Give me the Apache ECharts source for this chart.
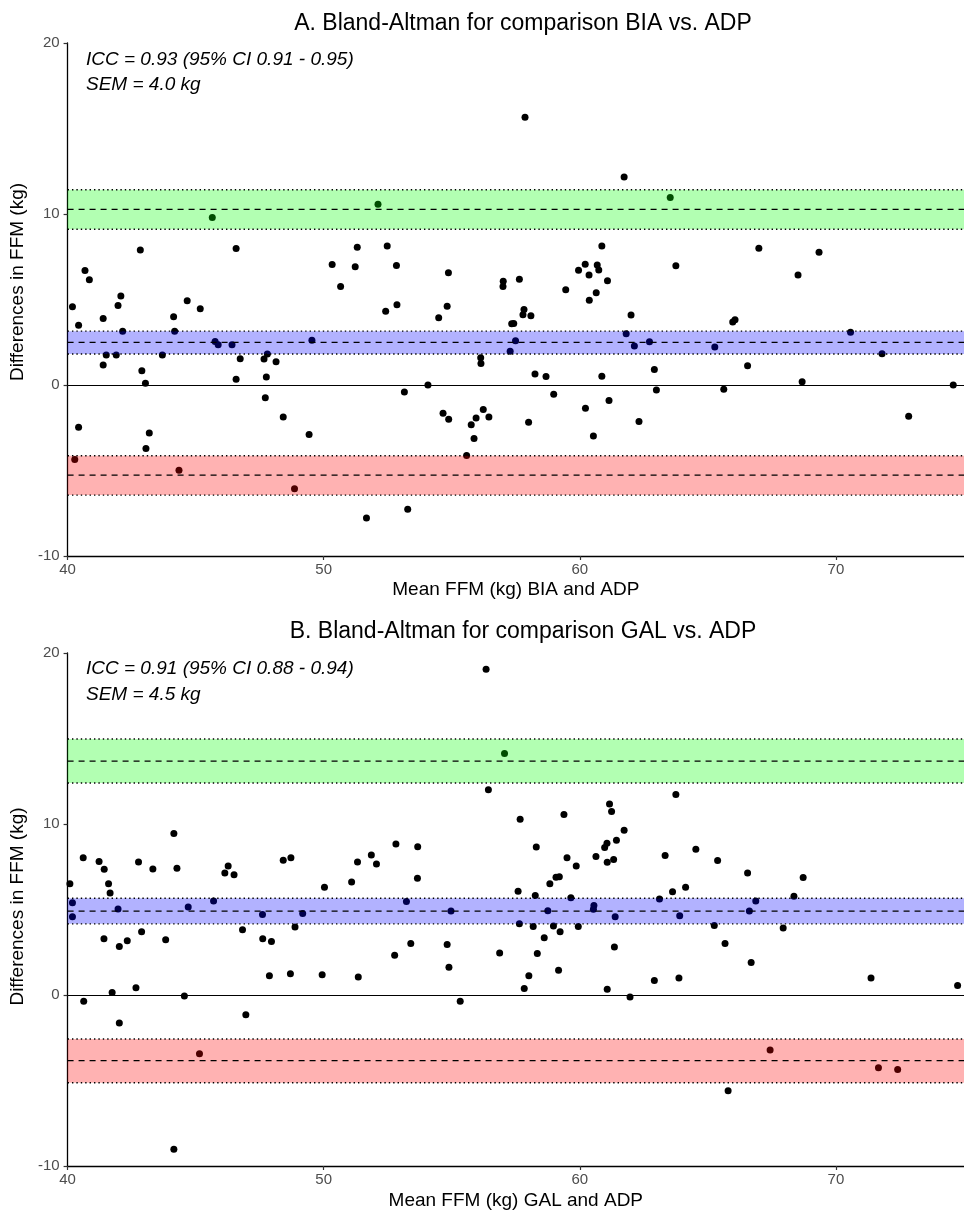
<!DOCTYPE html>
<html><head><meta charset="utf-8">
<script src="https://cdn.jsdelivr.net/npm/echarts@6/dist/echarts.min.js"></script>
<style>html,body{margin:0;padding:0;background:#fff}#c{width:964px;height:1213px}</style>
</head><body><div id="c"></div>
<script>
// ---------- data ----------
const xTicks = [40, 50, 60, 70];
const yTicks = [-10, 0, 10, 20];

const titleA = 'A. Bland-Altman for comparison BIA vs. ADP';
const titleB = 'B. Bland-Altman for comparison GAL vs. ADP';
const xNameA = 'Mean FFM (kg) BIA and ADP';
const xNameB = 'Mean FFM (kg) GAL and ADP';
const yName = 'Differences in FFM (kg)';
const noteA = ['ICC = 0.93 (95% CI 0.91 - 0.95)', 'SEM = 4.0 kg'];
const noteB = ['ICC = 0.91 (95% CI 0.88 - 0.94)', 'SEM = 4.5 kg'];

// [CI low, estimate, CI high]
const lowerA = [-6.44, -5.27, -4.14];
const biasA  = [1.81, 2.49, 3.15];
const upperA = [9.11, 10.27, 11.42];
const lowerB = [-5.13, -3.84, -2.57];
const biasB  = [4.16, 4.91, 5.66];
const upperB = [12.40, 13.68, 14.97];

// [mean FFM, difference]
const pointsA = [
 [40.19,4.57],[40.43,3.50],[40.43,-2.47],[40.28,-4.36],[40.68,6.69],[40.85,6.15],[41.39,3.89],[41.51,1.75],
 [41.39,1.17],[41.90,1.75],[41.97,4.65],[42.08,5.21],[42.15,3.15],[42.84,7.90],[42.90,0.84],[43.04,0.10],
 [43.06,-3.72],[43.19,-2.80],[43.70,1.75],[44.14,3.99],[44.18,3.15],[44.35,-4.98],[44.67,4.92],[45.18,4.46],
 [45.65,9.79],[45.76,2.55],[45.88,2.35],[46.42,2.35],[46.58,7.98],[46.74,1.54],[46.58,0.33],[47.67,1.52],
 [47.80,1.81],[47.76,0.47],[47.72,-0.74],[48.14,1.36],[48.42,-1.87],[48.86,-6.07],[49.43,-2.90],[49.54,2.61],
 [50.33,7.04],[50.66,5.76],[51.23,6.91],[51.31,8.06],
 [51.67,-7.78],[52.12,10.57],[52.48,8.13],[52.42,4.32],[52.84,6.99],[52.86,4.69],[53.15,-0.41],[53.28,-7.26],
 [54.07,0.00],[54.49,3.93],[54.82,4.61],[54.87,6.56],[54.66,-1.65],[54.88,-2.00],[55.58,-4.13],[55.76,-2.32],
 [55.95,-1.93],[55.87,-3.13],[56.23,-1.44],[56.45,-1.87],[56.13,1.60],[56.14,1.26],[57.01,6.07],[57.00,5.76],
 [57.28,1.97],[57.49,2.59],[57.34,3.58],[57.42,3.60],[57.64,6.19],[57.86,15.66],[57.82,4.42],[57.78,4.11],
 [58.09,4.05],[58.00,-2.18],[58.25,0.64],[58.68,0.49],[58.98,-0.54],[59.45,5.57],[59.95,6.71],[60.21,7.06],
 [60.36,6.44],[60.68,7.02],[60.74,6.73],[60.37,4.96],[60.64,5.39],[60.86,8.13],[61.08,6.09],[60.22,-1.36],
 [60.53,-2.98],[60.86,0.51],[61.14,-0.91],[61.73,12.16],[62.00,4.09],[61.81,3.00],[62.13,2.28],[62.72,2.53],
 [62.31,-2.14],[62.91,0.91],[62.99,-0.29],
 [63.53,10.96],[63.75,6.97],[65.27,2.22],[65.62,-0.25],[65.97,3.68],[66.06,3.81],[66.55,1.13],[66.99,8.00],
 [68.52,6.44],[68.68,0.19],[69.34,7.76],[70.57,3.09],[71.80,1.83],[72.84,-1.83],[74.58,0.00]
];
const pointsB = [
 [40.09,6.51],[40.19,5.39],[40.19,4.57],[40.61,8.02],[40.63,-0.36],[41.23,7.80],[41.43,7.35],[41.60,6.51],
 [41.66,5.96],[41.42,3.29],[41.97,5.03],[41.74,0.14],[42.02,2.83],[42.02,-1.64],[42.33,3.17],[42.67,0.42],
 [42.77,7.78],[42.89,3.70],[43.33,7.37],[43.83,3.23],[44.15,9.45],[44.27,7.41],[44.15,-9.02],[44.56,-0.06],
 [44.71,5.15],[45.15,-3.43],[45.70,5.49],[46.14,7.13],[46.27,7.54],[46.50,7.03],[46.83,3.82],[46.96,-1.15],
 [47.61,4.71],[47.62,3.29],[47.96,3.13],[47.88,1.13],[48.42,7.88],[48.72,8.02],[48.70,1.25],[48.88,3.98],
 [49.18,4.77],[49.94,1.19],[50.03,6.30],[51.09,6.61],[51.32,7.78],[51.35,1.05],
 [51.86,8.18],[52.06,7.66],[52.77,2.32],[52.82,8.83],[53.23,5.47],[53.40,3.01],[53.67,8.67],[53.66,6.83],
 [54.82,2.95],[54.89,1.62],[54.97,4.91],[55.33,-0.36],[56.34,19.05],[56.43,12.00],[56.87,2.46],[57.06,14.12],
 [57.59,6.06],[57.67,10.28],[57.64,4.16],[57.83,0.38],[58.01,1.13],[58.18,4.00],[58.26,5.82],[58.30,8.65],
 [58.34,2.42],[58.61,3.35],[58.75,4.93],[58.83,6.50],[58.97,4.04],[59.07,6.89],[59.20,6.91],[59.17,1.45],
 [59.23,3.70],[59.38,10.55],[59.50,8.02],[59.65,5.68],[59.86,7.54],[59.94,4.00],[60.53,5.01],[60.55,5.23],
 [60.63,8.10],[60.97,8.63],[61.06,8.87],[61.07,7.76],[61.32,7.92],[61.07,0.34],[61.16,11.17],[61.24,10.73],
 [61.43,9.05],[61.38,4.57],[61.35,2.81],[61.73,9.64],[61.96,-0.12],[62.91,0.85],
 [63.11,5.62],[63.33,8.16],[63.62,6.04],[63.75,11.72],[63.90,4.63],[63.87,0.99],[64.13,6.30],[64.53,8.53],
 [65.25,4.06],[65.38,7.86],[65.67,3.01],[65.79,-5.60],[66.55,7.13],[66.62,4.91],[66.87,5.49],[66.69,1.90],
 [67.43,-3.21],[67.94,3.92],[68.36,5.78],[68.72,6.87],[71.37,0.99],[71.66,-4.26],[72.41,-4.36],[74.75,0.55]
];

// ---------- styling / layout ----------
const FONT = '"Liberation Sans", Arial, sans-serif';
const bandFill = ['rgba(255,0,0,0.3)', 'rgba(0,0,255,0.3)', 'rgba(0,255,0,0.3)'];

function bandSeries(idx, lower, bias, upper) {
  return {
    type: 'custom', xAxisIndex: idx, yAxisIndex: idx, z: 5, silent: true, clip: false,
    data: [[...lower, 0], [...bias, 1], [...upper, 2]],
    encode: { x: -1, y: [0, 1, 2] },
    renderItem: function (params, api) {
      const cs = params.coordSys;
      const yLo = api.coord([50, api.value(0)])[1];
      const yMid = api.coord([50, api.value(1)])[1];
      const yHi = api.coord([50, api.value(2)])[1];
      const x0 = cs.x, x1 = cs.x + cs.width;
      const fill = bandFill[api.value(3)];
      const dotted = { stroke: '#000', lineWidth: 1.4, lineDash: [1.4, 3] };
      return {
        type: 'group',
        children: [
          { type: 'rect', shape: { x: x0, y: yHi, width: x1 - x0, height: yLo - yHi }, style: { fill: fill } },
          { type: 'line', shape: { x1: x0, y1: yHi, x2: x1, y2: yHi }, style: dotted },
          { type: 'line', shape: { x1: x0, y1: yLo, x2: x1, y2: yLo }, style: dotted },
          { type: 'line', shape: { x1: x0, y1: yMid, x2: x1, y2: yMid }, style: { stroke: '#000', lineWidth: 1.2, lineDash: [6, 5] } }
        ]
      };
    }
  };
}

function pointSeries(idx, pts) {
  return {
    type: 'scatter', xAxisIndex: idx, yAxisIndex: idx, z: 2, silent: true,
    symbolSize: 7, itemStyle: { color: '#000', opacity: 1 },
    data: pts,
    markLine: {
      silent: true, symbol: 'none', z: 1, animation: false,
      label: { show: false },
      lineStyle: { color: '#000', type: 'solid', width: 1.2 },
      data: [{ yAxis: 0 }]
    }
  };
}

function xAxisOf(idx, name, gap) {
  return {
    type: 'value', gridIndex: idx, min: 40, max: 75, interval: 10,
    name: name, nameLocation: 'middle', nameGap: gap,
    nameTextStyle: { fontSize: 19, color: '#000', fontFamily: FONT },
    axisLine: { show: true, onZero: false, lineStyle: { color: '#000', width: 1.3 } },
    axisTick: { show: true, length: 4, lineStyle: { color: '#333', width: 1.2 }, customValues: xTicks },
    axisLabel: { fontSize: 15, color: '#4D4D4D', fontFamily: FONT, margin: 6, customValues: xTicks },
    splitLine: { show: false }
  };
}
function yAxisOf(idx, shift) {
  return {
    type: 'value', gridIndex: idx, min: -10, max: 20, interval: 10,
    name: yName, nameLocation: 'middle', nameGap: 35,
    nameTextStyle: { fontSize: 19, color: '#000', fontFamily: FONT, padding: [0, 0, 0, shift] },
    axisLine: { show: true, onZero: false, lineStyle: { color: '#000', width: 1.3 } },
    axisTick: { show: true, length: 4, lineStyle: { color: '#333', width: 1.2 }, customValues: yTicks },
    axisLabel: { fontSize: 15, color: '#4D4D4D', fontFamily: FONT, margin: 8, customValues: yTicks },
    splitLine: { show: false }
  };
}
function noteText(lines, y0, y1) {
  const st = { font: 'italic 19px ' + FONT, fill: '#000' };
  return [
    { type: 'text', left: 86, top: y0 - 11, style: Object.assign({ text: lines[0] }, st) },
    { type: 'text', left: 86, top: y1 - 11, style: Object.assign({ text: lines[1] }, st) }
  ];
}

const chart = echarts.init(document.getElementById('c'), null, { renderer: 'canvas' });
chart.setOption({
  backgroundColor: '#fff',
  animation: false,
  title: [
    { text: titleA, left: 518, top: 7, textAlign: 'center', textStyle: { fontSize: 23, fontWeight: 'normal', color: '#000', fontFamily: FONT } },
    { text: titleB, left: 518, top: 615, textAlign: 'center', textStyle: { fontSize: 23, fontWeight: 'normal', color: '#000', fontFamily: FONT } }
  ],
  grid: [
    { left: 65, right: -6, top: 43, height: 513 },
    { left: 65, right: -6, top: 653, height: 513 }
  ],
  xAxis: [xAxisOf(0, xNameA, 24), xAxisOf(1, xNameB, 25)],
  yAxis: [yAxisOf(0, 35), yAxisOf(1, 6)],
  graphic: [].concat(noteText(noteA, 61, 86), noteText(noteB, 670, 696)),
  series: [
    pointSeries(0, pointsA), bandSeries(0, lowerA, biasA, upperA),
    pointSeries(1, pointsB), bandSeries(1, lowerB, biasB, upperB)
  ]
});
</script></body></html>
